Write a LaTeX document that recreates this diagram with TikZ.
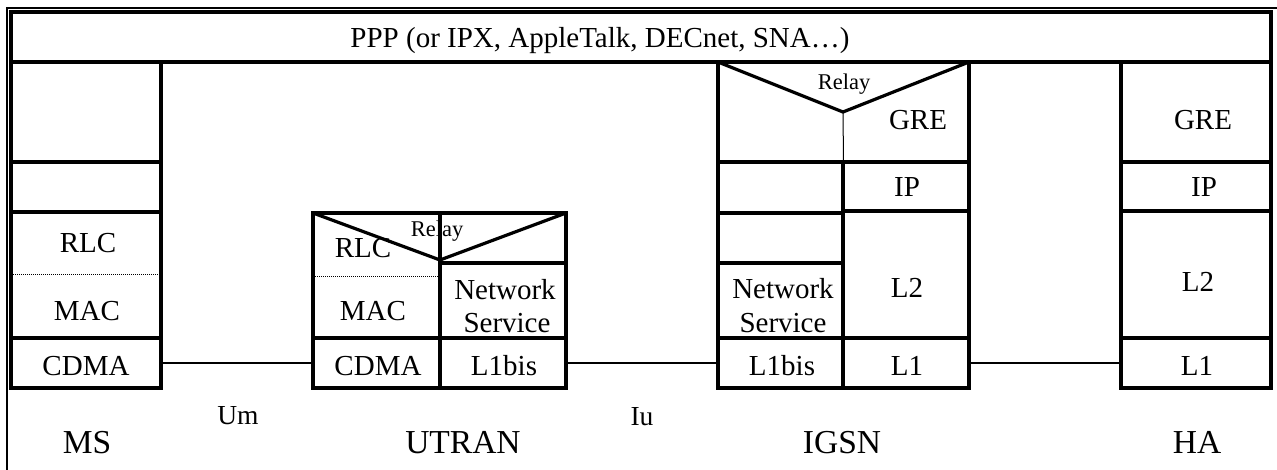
\documentclass[tikz,border=0pt]{standalone}
\usepackage{fontspec}
\setmainfont{Liberation Serif}
\usetikzlibrary{fit}
\begin{document}
\begin{tikzpicture}[x=1pt,y=-1pt,
  box/.style={draw, line width=3.2pt, inner sep=0pt, outer sep=0pt},
  thinline/.style={line width=1pt},
  thickline/.style={line width=3.2pt, line join=miter},
  dotline/.style={line width=1pt, dash pattern=on 1pt off 1pt},
  link/.style={line width=2.2pt},
  frame/.style={line width=2.2pt},
  lbl/.style={font=\fontsize{29}{34}\selectfont, inner sep=0pt, anchor=base},
  small/.style={font=\fontsize{22.5}{26}\selectfont, inner sep=0pt, anchor=base},
  iface/.style={font=\fontsize{27.5}{32}\selectfont, inner sep=0pt, anchor=base},
  entity/.style={font=\fontsize{33.5}{40}\selectfont, inner sep=0pt, anchor=base}]
\useasboundingbox (0,0) rectangle (1277,470);
% outer frame
\draw[frame] (7,470) -- (7,8) -- (1277,8);
% PPP row
\node[box, fit={(11,12) (1271,62)}] (ppp) {};
\node[lbl] (tppp) at (600,48) {PPP (or IPX, AppleTalk, DECnet, SNA…)};
% MS
\node[box, fit={(11,62) (161,162)}] (ms1) {};
\node[box, fit={(11,162) (161,212)}] (ms2) {};
\node[box, fit={(11,212) (161,338)}] (ms3) {};
\node[box, fit={(11,338) (161,388)}] (ms4) {};
\draw[dotline] (ms3.west |- 0,275) -- (ms3.east |- 0,275);
\node[lbl] (tmsrlc) at (88,253) {RLC};
\node[lbl] (tmsmac) at (87,320) {MAC};
\node[lbl] (tmscdma) at (86,375) {CDMA};
% UTRAN
\node[box, fit={(313,213) (440,338)}] (ut1) {};
\node[box, fit={(313,338) (440,388)}] (ut2) {};
\node[box, fit={(440,213) (566,263)}] (ut3) {};
\node[box, fit={(440,263) (566,338)}] (ut4) {};
\node[box, fit={(440,338) (566,388)}] (ut5) {};
\draw[thickline] (ut1.north west) -- (ut1.north east |- 0,260) -- (ut3.north east);
\draw[dotline] (ut1.west |- 0,277) -- (ut1.east |- 0,277);
\node[small] (tutrelay) at (437,237) {Relay};
\node[lbl] (tutrlc) at (363,258) {RLC};
\node[lbl] (tutmac) at (373,320) {MAC};
\node[lbl] (tutcdma) at (378,375) {CDMA};
\node[lbl] (tutns1) at (505,300) {Network};
\node[lbl] (tutns2) at (507,332) {Service};
\node[lbl] (tutl1bis) at (504,375) {L1bis};
% IGSN
\node[box, fit={(718,62) (969,162)}] (ig0) {};
\draw[thickline] (ig0.north west) -- (843,112) -- (ig0.north east);
\draw[thinline] (843,112) -- (ig0.south);
\node[box, fit={(718,162) (843,213)}] (ig1) {};
\node[box, fit={(718,213) (843,263)}] (ig2) {};
\node[box, fit={(718,263) (843,338)}] (ig3) {};
\node[box, fit={(718,338) (843,388)}] (ig4) {};
\node[box, fit={(843,162) (969,211)}] (ig5) {};
\node[box, fit={(843,211) (969,338)}] (ig6) {};
\node[box, fit={(843,338) (969,388)}] (ig7) {};
\node[small] (tigrelay) at (844,90) {Relay};
\node[lbl] (tiggre) at (918,130) {GRE};
\node[lbl] (tigip) at (907,197) {IP};
\node[lbl] (tigns1) at (783,299) {Network};
\node[lbl] (tigns2) at (783,332) {Service};
\node[lbl] (tigl1bis) at (782,375) {L1bis};
\node[lbl] (tigl2) at (907,298) {L2};
\node[lbl] (tigl1) at (907,375) {L1};
% HA
\node[box, fit={(1121,62) (1271,162)}] (ha1) {};
\node[box, fit={(1121,162) (1271,211)}] (ha2) {};
\node[box, fit={(1121,211) (1271,338)}] (ha3) {};
\node[box, fit={(1121,338) (1271,388)}] (ha4) {};
\node[lbl] (thagre) at (1203,130) {GRE};
\node[lbl] (thaip) at (1204,197) {IP};
\node[lbl] (thal2) at (1198,292) {L2};
\node[lbl] (thal1) at (1197,375) {L1};
% links
\draw[link] (ms4.east) -- (ut2.west);
\draw[link] (ut5.east) -- (ig4.west);
\draw[link] (ig7.east) -- (ha4.west);
% labels
\node[iface] (tum) at (238,424) {Um};
\node[iface] (tiu) at (642,425) {Iu};
\node[entity] (tms) at (87,453) {MS};
\node[entity] (tutran) at (463,453) {UTRAN};
\node[entity] (tigsn) at (842,453) {IGSN};
\node[entity] (tha) at (1197,453) {HA};
\end{tikzpicture}
\end{document}
